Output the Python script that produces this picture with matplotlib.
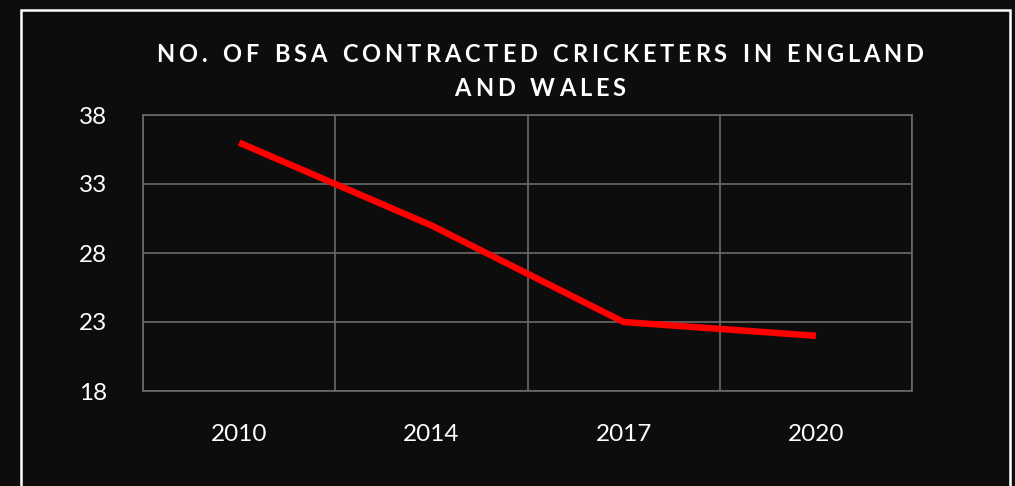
import matplotlib
matplotlib.use("Agg")
import matplotlib.pyplot as plt
from matplotlib.patches import Rectangle
import numpy as np

years = ["2010", "2014", "2017", "2020"]
cricketers = [36, 30, 23, 22]
y_ticks = [18, 23, 28, 33, 38]
title_lines = ["NO. OF BSA CONTRACTED CRICKETERS IN ENGLAND", "AND WALES"]

BG = "#0d0d0d"
GRID = "#6a6a6a"
W, H = 1015, 486
fig = plt.figure(figsize=(W / 100, H / 100), dpi=100, facecolor=BG)
ax = fig.add_axes([143 / W, (H - 391) / H, (912 - 143) / W, (391 - 115) / H])
ax.set_facecolor(BG)

x = np.arange(len(years))
ax.plot(x, cricketers, color="#ff0000", lw=4.7, solid_capstyle="butt",
        solid_joinstyle="round", zorder=3)

ax.set_xlim(-0.5, len(years) - 0.5)
ax.set_ylim(min(y_ticks), max(y_ticks))
ax.set_yticks(y_ticks)
ax.set_xticks(x)
ax.set_xticklabels(years)
ax.set_xticks(np.arange(-0.5, len(years), 1.0), minor=True)
ax.grid(False)
ax.yaxis.grid(True, which="major", color=GRID, lw=1.2)
ax.xaxis.grid(True, which="minor", color=GRID, lw=1.2)
ax.tick_params(which="both", length=0)
ax.tick_params(axis="y", pad=26, labelsize=17.5, labelcolor="white")
ax.tick_params(axis="x", pad=24, labelsize=17.5, labelcolor="white")
for lab in ax.get_xticklabels() + ax.get_yticklabels():
    lab.set_fontfamily("Lato")
for s in ax.spines.values():
    s.set_color(GRID)
    s.set_linewidth(1.2)

# outer white frame (extends below the image)
frame = Rectangle((21 / W, -0.1), (1010 - 21) / W, (H - 10) / H + 0.1,
                  transform=fig.transFigure, fill=False, ec="white", lw=1.8,
                  clip_on=False)
fig.patches.append(frame)

# letter-spaced title, drawn char by char
renderer = fig.canvas.get_renderer()
fs = 17
target_width = 767  # px, width of the first title line
centers_y = [55, 89]


def char_widths(line):
    out = []
    for ch in line:
        t = fig.text(0, 0, "n" if ch == " " else ch, fontsize=fs,
                     fontweight="bold", family="Lato")
        w = t.get_window_extent(renderer).width
        out.append(w * (0.55 if ch == " " else 1.0))
        t.remove()
    return out


w0 = char_widths(title_lines[0])
spacing = (target_width - sum(w0)) / (len(title_lines[0]) - 1)
for line, cy in zip(title_lines, centers_y):
    widths = char_widths(line)
    total = sum(widths) + spacing * (len(line) - 1)
    xpos = 540 - total / 2
    for ch, w in zip(line, widths):
        if ch != " ":
            fig.text(xpos / W, (H - cy) / H, ch, fontsize=fs, fontweight="bold",
                     family="Lato", color="white", ha="left", va="center")
        xpos += w + spacing

fig.savefig("out.png", dpi=100, facecolor=BG)
